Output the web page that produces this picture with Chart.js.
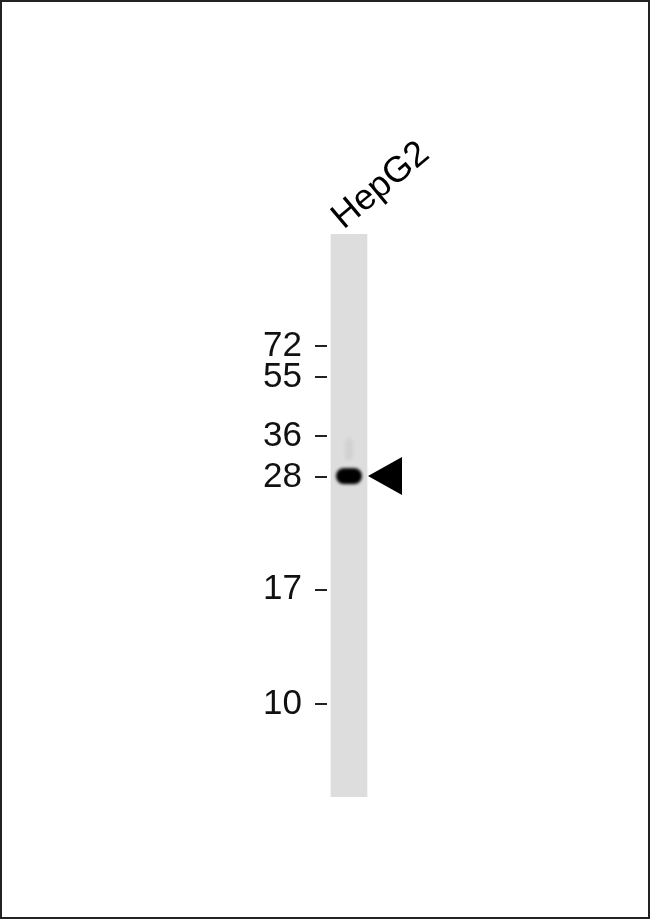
<!DOCTYPE html>
<html>
<head>
<meta charset="utf-8">
<script src="https://cdn.jsdelivr.net/npm/chart.js@4.4.1/dist/chart.umd.min.js"></script>
<style>
  html, body { margin: 0; padding: 0; background: #fff; }
  #wrap { position: relative; width: 650px; height: 920px; }
  #frame { position: absolute; left: 0; top: 0; width: 650px; height: 919px; box-sizing: border-box; border: 2px solid #222; pointer-events: none; }
</style>
</head>
<body>
<div id="wrap">
  <canvas id="blot" width="650" height="920"></canvas>
  <div id="frame"></div>
</div>
<script>
// lane names
const lanes = ["HepG2"];
// marker ladder, kDa, with relative migration (0 = top of lane, 1 = bottom)
const markerLabels = ["72", "55", "36", "28", "17", "10"];
const markerRf = [0.199, 0.254, 0.359, 0.432, 0.632, 0.835];
// bands seen in the lane: main band and a faint smear above it
const bandRf = [0.430, 0.382];
const bandIntensity = [1, 0.05];
const bandSize = [[26, 16], [8, 22]];
// band pointed at by the arrow
const arrowRf = 0.430;

// soft blot band used as the point image
function bandImage(alpha, w, h) {
  const c = document.createElement("canvas");
  c.width = w + 10;
  c.height = h + 10;
  const g = c.getContext("2d");
  g.filter = "blur(1.4px)";
  g.fillStyle = "rgba(0,0,0," + alpha + ")";
  g.beginPath();
  g.roundRect(5, 5, w, h, Math.min(w, h) / 2);
  g.fill();
  return c;
}

const arrowPlugin = {
  id: "arrow",
  afterDatasetsDraw(chart) {
    const ctx = chart.ctx;
    const y = chart.scales.y.getPixelForValue(arrowRf);
    const lane = chart.getDatasetMeta(1).data[0];
    const tipX = lane.x + lane.width / 2 + 1;
    ctx.save();
    ctx.fillStyle = "#000";
    ctx.beginPath();
    ctx.moveTo(tipX, y);
    ctx.lineTo(tipX + 34, y - 19);
    ctx.lineTo(tipX + 34, y + 19);
    ctx.closePath();
    ctx.fill();
    ctx.restore();
  }
};

const ctx = document.getElementById("blot").getContext("2d");
const blot = new Chart(ctx, {
  data: {
    labels: lanes,
    datasets: [
      {
        type: "line",
        label: "bands",
        data: bandRf.map(r => ({ x: lanes[0], y: r })),
        showLine: false,
        pointStyle: bandRf.map((r, i) => bandImage(bandIntensity[i], bandSize[i][0], bandSize[i][1])),
        order: 1
      },
      {
        type: "bar",
        label: "lane",
        data: lanes.map(() => [0, 1]),
        backgroundColor: "#dddddd",
        borderWidth: 0,
        barThickness: 36,
        order: 2
      }
    ]
  },
  options: {
    responsive: false,
    animation: false,
    devicePixelRatio: 1,
    layout: { padding: { left: 0, right: 279, top: 0, bottom: 123 } },
    plugins: { legend: { display: false }, tooltip: { enabled: false } },
    scales: {
      x: {
        position: "top",
        offset: true,
        afterFit: s => { s.height = 234; },
        ticks: {
          minRotation: 40,
          maxRotation: 40,
          autoSkip: false,
          padding: -5,
          labelOffset: 16,
          color: "#000",
          font: { family: "'Liberation Sans', Arial, sans-serif", size: 36 }
        },
        grid: { display: false, drawTicks: false },
        border: { display: false }
      },
      y: {
        type: "linear",
        reverse: true,
        min: 0,
        max: 1,
        afterBuildTicks: s => { s.ticks = markerRf.map(v => ({ value: v })); },
        afterFit: s => { s.width = 327; },
        ticks: {
          autoSkip: false,
          padding: 13,
          color: "#111",
          font: { family: "'Liberation Sans', Arial, sans-serif", size: 35 },
          callback: v => markerLabels[markerRf.indexOf(v)]
        },
        grid: { drawOnChartArea: false, tickLength: 12, tickColor: "#222", lineWidth: 2 },
        border: { display: false }
      }
    }
  },
  plugins: [arrowPlugin]
});
</script>
</body>
</html>
